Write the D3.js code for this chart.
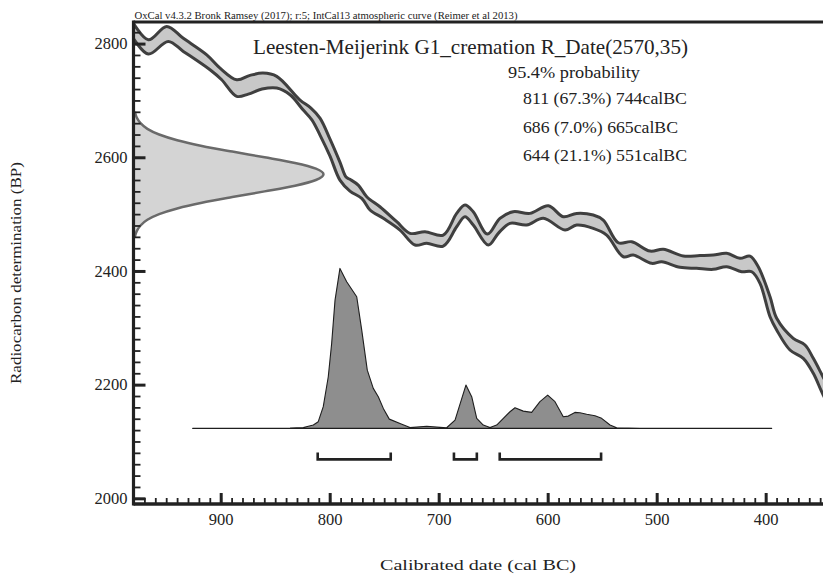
<!DOCTYPE html>
<html>
<head>
<meta charset="utf-8">
<script src="https://cdn.jsdelivr.net/npm/d3@7"></script>
<style>
  html, body { margin: 0; padding: 0; background: #fff; }
  svg { display: block; }
  text { font-family: "Liberation Serif", "DejaVu Serif", serif; fill: #222; }
</style>
</head>
<body>
<svg id="chart" width="823" height="577"></svg>
<script>
// ---------------- DATA ----------------
const creditText = "OxCal v4.3.2 Bronk Ramsey (2017); r:5; IntCal13 atmospheric curve (Reimer et al 2013)";
const titleText = "Leesten-Meijerink G1_cremation R_Date(2570,35)";
const probHeader = "95.4% probability";
const rangeLabels = ["811 (67.3%) 744calBC", "686 (7.0%) 665calBC", "644 (21.1%) 551calBC"];
const xAxisTitle = "Calibrated date (cal BC)";
const yAxisTitle = "Radiocarbon determination (BP)";

const xMajorTicks = [900, 800, 700, 600, 500, 400];
const yMajorTicks = [2000, 2200, 2400, 2600, 2800];

// Calibration curve band (cal BC year, BP)
const curveUpperYears = [982, 966.4, 949.5, 934.6, 912.8, 900.6, 885.3, 873.1, 861.2, 848.6, 827.2, 817.2, 808.9, 799.7, 790.6, 785, 781.4, 773.8, 766, 753.9, 738.5, 726.3, 712.6, 695.8, 683.5, 675.9, 668.3, 655.2, 643.8, 631.6, 616.2, 599.4, 585.7, 573.4, 558.2, 549, 535.2, 522.9, 506.1, 493.9, 475.6, 460.3, 448.1, 435.8, 423.6, 414.4, 406.8, 396, 389.9, 374.7, 363.9, 356.3, 347.4, 338];
const curveUpperBP    = [2842, 2806.7, 2830.3, 2809.7, 2780.3, 2756.9, 2736.4, 2744.1, 2748.1, 2742.3, 2700.6, 2686.6, 2669, 2632, 2591.6, 2565.2, 2561.2, 2551.1, 2530.6, 2513, 2486.6, 2466.2, 2469, 2463.2, 2501.3, 2516, 2504.2, 2464.9, 2492.6, 2504.2, 2501.3, 2514.7, 2495.4, 2501.3, 2498.4, 2489.6, 2449.6, 2451.4, 2435, 2438, 2426.2, 2427.1, 2428, 2431, 2422.2, 2426.2, 2407.4, 2354.6, 2316.7, 2281.5, 2269.7, 2246.3, 2213.9, 2180];
const curveLowerYears = [982, 966.4, 948.1, 934.3, 909.8, 899.1, 885.3, 874.7, 862.1, 848.6, 836.4, 824.5, 816.2, 808.9, 799.7, 790.6, 781.4, 770.6, 763, 750.8, 735.5, 721.7, 711, 695.8, 683.5, 675.9, 668.3, 654.5, 645.3, 634.6, 619.3, 604, 584.1, 573.4, 558.2, 545.9, 530.6, 521.5, 504.6, 495.4, 478.6, 463.3, 448.1, 435.8, 422, 412.8, 405.2, 396, 389.9, 377.7, 365.5, 356.3, 347.2, 338];
const curveLowerBP    = [2815, 2781.6, 2803.9, 2786.3, 2753.9, 2736.4, 2707.2, 2711.2, 2720, 2721.8, 2710, 2683.6, 2665.5, 2639.1, 2602.1, 2559.9, 2540.6, 2527.7, 2507.2, 2492.6, 2472, 2445.6, 2448.6, 2443.8, 2477.8, 2495.4, 2480.8, 2445.6, 2466.2, 2483.8, 2480.8, 2492.6, 2472, 2480.8, 2475, 2463.2, 2425, 2428, 2413.4, 2416.2, 2406.4, 2404.6, 2402.8, 2407.4, 2398.6, 2398.6, 2378.2, 2319.5, 2296.1, 2260.9, 2246.3, 2219.9, 2181.7, 2150];

// Radiocarbon measurement distribution (BP, relative density)
const rcBP      = [2460, 2470, 2480, 2490, 2500, 2510, 2520, 2530, 2540, 2550, 2560, 2570, 2580, 2590, 2600, 2610, 2620, 2630, 2640, 2650, 2660, 2670, 2680];
const rcDensity = [0.007, 0.017, 0.037, 0.073, 0.135, 0.23, 0.36, 0.52, 0.69, 0.85, 0.96, 1.0, 0.96, 0.85, 0.69, 0.52, 0.36, 0.23, 0.135, 0.073, 0.037, 0.017, 0.007];

// Calibrated probability distribution (cal BC year, relative probability 0-100)
const calYears = [925.7, 836.4, 824.2, 815, 810.5, 805.9, 801.3, 798.2, 795.1, 790.6, 784.4, 775.2, 770.6, 765.5, 760, 755.4, 750.8, 745.3, 735.5, 726.3, 711, 692.7, 685, 675, 669.7, 665.1, 659.1, 652.9, 646.8, 634.6, 630, 622.4, 614.7, 607.1, 600, 593.3, 585.7, 581.1, 575, 570.4, 564.2, 556.6, 550.5, 542.8, 536.7, 515.3, 394.5];
const calProb  = [0, 0.2, 0.6, 2.1, 4.2, 13.6, 32.3, 53.1, 80.2, 100, 91.7, 82.3, 61.4, 36.4, 25, 19.8, 12.5, 5.8, 3.1, 0.6, 1.3, 0.4, 5.2, 27.1, 19.8, 6.3, 2.1, 0.6, 2.1, 10.4, 12.9, 10.8, 10, 16.7, 20.8, 16.7, 7.3, 7.7, 10, 9.8, 8.8, 7.9, 6.3, 2.1, 0.4, 0, 0];

// 95.4% ranges (start, end cal BC)
const rangeStarts = [811, 686, 644];
const rangeEnds   = [744, 665, 551];

// ---------------- CHART ----------------
const svg = d3.select("#chart");
const W = 823, H = 577;
const plotLeft = 133.5, plotRight = 823, plotTop = 22, plotBottom = 504;

svg.append("rect").attr("width", W).attr("height", H).attr("fill", "#fff");

const x = d3.scaleLinear().domain([980, 347.4]).range([plotLeft, plotRight]);
const y = d3.scaleLinear().domain([1990, 2838]).range([plotBottom, plotTop]);

svg.append("defs").append("clipPath").attr("id", "plotClip")
  .append("rect").attr("x", plotLeft).attr("y", plotTop)
  .attr("width", plotRight - plotLeft + 5).attr("height", plotBottom - plotTop);

const plot = svg.append("g").attr("clip-path", "url(#plotClip)");

// calibration curve band
const smooth = d3.line().curve(d3.curveCatmullRom.alpha(0.5));
const upperPts = curveUpperYears.map((d, i) => [x(d), y(curveUpperBP[i])]);
const lowerPts = curveLowerYears.map((d, i) => [x(d), y(curveLowerBP[i])]);
const bandD = smooth(upperPts) + "L" + smooth(lowerPts.slice().reverse()).slice(1) + "Z";
plot.append("path")
  .attr("d", bandD)
  .attr("fill", "#c8c8c8")
  .attr("stroke", "#3f3f3f")
  .attr("stroke-width", 3)
  .attr("stroke-linejoin", "round");

// radiocarbon gaussian on the y axis
const gw = d3.scaleLinear().domain([0, 1]).range([0, 190]);
const gPts = rcBP.map((b, i) => [plotLeft + gw(rcDensity[i]), y(b)]);
const gArea = [[plotLeft, y(rcBP[0])]].concat(gPts).concat([[plotLeft, y(rcBP[rcBP.length - 1])]]);
plot.append("path")
  .attr("d", d3.line()(gArea))
  .attr("fill", "#d4d4d4")
  .attr("stroke", "none");
plot.append("path")
  .attr("d", d3.line().curve(d3.curveMonotoneY)(gPts))
  .attr("fill", "none")
  .attr("stroke", "#6a6a6a")
  .attr("stroke-width", 2.5);

// calibrated distribution
const baseY = y(2123);
const ph = d3.scaleLinear().domain([0, 100]).range([0, 160]);
const distPts = calYears.map((d, i) => [x(d), baseY - ph(calProb[i])]);
plot.append("path")
  .attr("d", d3.line()(distPts) + "Z")
  .attr("fill", "#8e8e8e")
  .attr("stroke", "#1e1e1e")
  .attr("stroke-width", 1.1)
  .attr("stroke-linejoin", "round");

// range brackets
const brY = baseY + 31, brTick = 7;
rangeStarts.forEach((s, i) => {
  const x0 = x(s), x1 = x(rangeEnds[i]);
  plot.append("path")
    .attr("d", `M${x0},${brY - brTick}L${x0},${brY}L${x1},${brY}L${x1},${brY - brTick}`)
    .attr("fill", "none").attr("stroke", "#222").attr("stroke-width", 2.6);
});

// axes
const yMinor = d3.range(2000, 2838, 20);
const xMinor = d3.range(970, 345, -10);

const yMinorAxis = d3.axisLeft(y).tickValues(yMinor).tickSize(-7).tickFormat("");
const yMajorAxis = d3.axisLeft(y).tickValues(yMajorTicks).tickSize(-12).tickPadding(6).tickFormat(d3.format("d"));
const xMinorAxis = d3.axisBottom(x).tickValues(xMinor).tickSize(-6).tickFormat("");
const xMajorAxis = d3.axisBottom(x).tickValues(xMajorTicks).tickSize(-11).tickPadding(9).tickFormat(d3.format("d"));

function styleAxis(g, w) {
  g.select(".domain").remove();
  g.selectAll(".tick line").attr("stroke", "#222").attr("stroke-width", w);
  g.selectAll(".tick text").style("font-family", "Liberation Serif, serif").style("font-size", "16.5px").attr("fill", "#222");
}
svg.append("g").attr("transform", `translate(${plotLeft},0)`).call(yMinorAxis).call(g => styleAxis(g, 1.8));
svg.append("g").attr("transform", `translate(${plotLeft},0)`).call(yMajorAxis).call(g => styleAxis(g, 3));
svg.append("g").attr("transform", `translate(0,${plotBottom})`).call(xMinorAxis).call(g => styleAxis(g, 1.8));
svg.append("g").attr("transform", `translate(0,${plotBottom})`).call(xMajorAxis).call(g => styleAxis(g, 3));

// frame lines
svg.append("line").attr("x1", plotLeft).attr("x2", plotRight).attr("y1", plotTop).attr("y2", plotTop)
  .attr("stroke", "#222").attr("stroke-width", 3);
svg.append("line").attr("x1", plotLeft).attr("x2", plotLeft).attr("y1", plotTop - 1.5).attr("y2", plotBottom + 1.5)
  .attr("stroke", "#222").attr("stroke-width", 3.2);
svg.append("line").attr("x1", plotLeft).attr("x2", plotRight).attr("y1", plotBottom).attr("y2", plotBottom)
  .attr("stroke", "#222").attr("stroke-width", 3.4);

// texts
svg.append("text").attr("x", plotLeft + 1).attr("y", 18.5)
  .attr("textLength", 383).attr("lengthAdjust", "spacingAndGlyphs")
  .style("font-size", "10px").text(creditText);

svg.append("text").attr("x", 253).attr("y", 54)
  .attr("textLength", 435).attr("lengthAdjust", "spacingAndGlyphs")
  .style("font-size", "21px").text(titleText);
svg.append("text").attr("x", 508).attr("y", 78)
  .attr("textLength", 132).attr("lengthAdjust", "spacingAndGlyphs")
  .style("font-size", "17px").text(probHeader);
const rangeWidths = [164, 155, 164];
rangeLabels.forEach((t, i) => {
  svg.append("text").attr("x", 523).attr("y", 104 + i * 28.5)
    .attr("textLength", rangeWidths[i]).attr("lengthAdjust", "spacingAndGlyphs")
    .style("font-size", "17px").text(t);
});

svg.append("text").attr("x", 478).attr("y", 570).attr("text-anchor", "middle")
  .attr("textLength", 196).attr("lengthAdjust", "spacingAndGlyphs")
  .style("font-size", "15px").text(xAxisTitle);
svg.append("text").attr("transform", "translate(21,273) rotate(-90)").attr("text-anchor", "middle")
  .attr("textLength", 222).attr("lengthAdjust", "spacingAndGlyphs")
  .style("font-size", "15px").text(yAxisTitle);
</script>
</body>
</html>
